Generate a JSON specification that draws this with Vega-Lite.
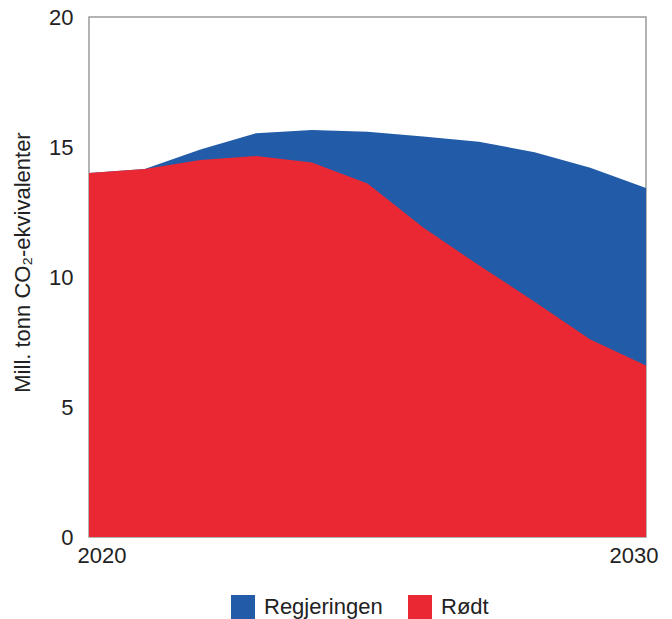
{
  "$schema": "https://vega.github.io/schema/vega-lite/v6.json",
  "width": 557,
  "height": 520,
  "autosize": "none",
  "padding": {"left": 89, "top": 17, "right": 26, "bottom": 82},
  "config": {
    "font": "Liberation Sans",
    "view": {"stroke": "#9a9a9a", "strokeWidth": 1.5},
    "axis": {"labelFont": "Liberation Sans", "titleFont": "Liberation Sans", "labelColor": "#222", "titleColor": "#222"}
  },
  "data": {
    "values": [
      {"year": 2020, "series": "Regjeringen", "value": 14.0},
      {"year": 2021, "series": "Regjeringen", "value": 14.15},
      {"year": 2022, "series": "Regjeringen", "value": 14.9},
      {"year": 2023, "series": "Regjeringen", "value": 15.53},
      {"year": 2024, "series": "Regjeringen", "value": 15.65},
      {"year": 2025, "series": "Regjeringen", "value": 15.59},
      {"year": 2026, "series": "Regjeringen", "value": 15.4},
      {"year": 2027, "series": "Regjeringen", "value": 15.2},
      {"year": 2028, "series": "Regjeringen", "value": 14.8},
      {"year": 2029, "series": "Regjeringen", "value": 14.2},
      {"year": 2030, "series": "Regjeringen", "value": 13.42},
      {"year": 2020, "series": "Rødt", "value": 14.0},
      {"year": 2021, "series": "Rødt", "value": 14.15},
      {"year": 2022, "series": "Rødt", "value": 14.5},
      {"year": 2023, "series": "Rødt", "value": 14.65},
      {"year": 2024, "series": "Rødt", "value": 14.4},
      {"year": 2025, "series": "Rødt", "value": 13.6},
      {"year": 2026, "series": "Rødt", "value": 11.9},
      {"year": 2027, "series": "Rødt", "value": 10.45},
      {"year": 2028, "series": "Rødt", "value": 9.05},
      {"year": 2029, "series": "Rødt", "value": 7.6},
      {"year": 2030, "series": "Rødt", "value": 6.6}
    ]
  },
  "encoding": {
    "x": {
      "field": "year", "type": "quantitative",
      "scale": {"domain": [2020, 2030], "nice": false, "zero": false},
      "axis": {"title": null, "values": [2020, 2030], "format": "d", "grid": false, "ticks": false, "domain": false,
               "labelFontSize": 22, "labelPadding": 8, "labelFlush": true, "labelFlushOffset": 12}
    },
    "y": {
      "field": "value", "type": "quantitative",
      "scale": {"domain": [0, 20], "nice": false},
      "stack": null,
      "axis": {"title": "Mill. tonn CO₂-ekvivalenter", "values": [0, 5, 10, 15, 20], "grid": false, "ticks": false, "domain": false,
               "labelFontSize": 22, "labelPadding": 16, "titleFontSize": 22, "titleFontWeight": "normal",
               "titleX": -67, "titleY": 245, "titleBaseline": "middle", "titleAlign": "center", "titleAngle": -90}
    },
    "color": {
      "field": "series", "type": "nominal",
      "scale": {"domain": ["Regjeringen", "Rødt"], "range": ["#225CA9", "#EA2834"]},
      "legend": {"title": null, "orient": "none", "legendX": 142, "legendY": 578, "direction": "horizontal",
                 "symbolType": "square", "symbolSize": 576, "symbolStrokeWidth": 0, "labelFontSize": 22, "labelColor": "#222",
                 "labelOffset": 9, "columnPadding": 25, "symbolOpacity": 1}
    }
  },
  "layer": [
    {"transform": [{"filter": "datum.series === 'Regjeringen'"}], "mark": {"type": "area", "opacity": 1}},
    {"transform": [{"filter": "datum.series === 'Rødt'"}], "mark": {"type": "area", "opacity": 1}}
  ]
}
